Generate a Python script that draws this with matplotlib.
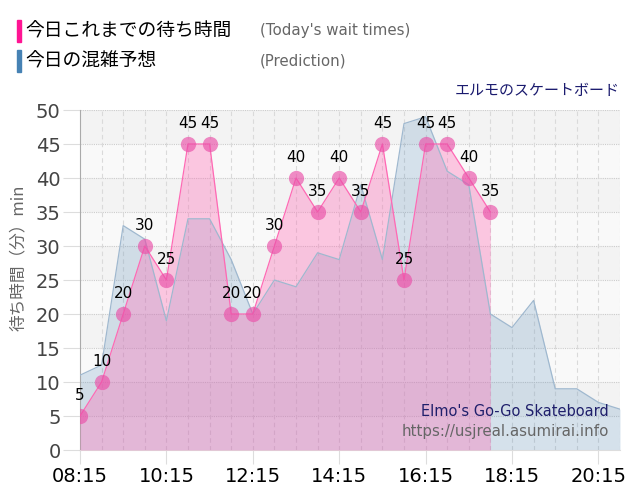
import numpy as np
import matplotlib.pyplot as plt
from matplotlib.patches import Rectangle

plt.rcParams['font.family'] = ['DejaVu Sans', 'Noto Sans CJK JP']

# 今日これまでの待ち時間 (30分ごと)
jikan_kyou = ["08:15", "08:45", "09:15", "09:45", "10:15", "10:45", "11:15", "11:45",
              "12:15", "12:45", "13:15", "13:45", "14:15", "14:45", "15:15", "15:45",
              "16:15", "16:45", "17:15", "17:45"]
machi_kyou = [5, 10, 20, 30, 25, 45, 45, 20, 20, 30, 40, 35, 40, 35, 45, 25, 45, 45, 40, 35]

# 今日の混雑予想
jikan_yosou = jikan_kyou + ["18:15", "18:45", "19:15", "19:45", "20:15", "20:45"]
machi_yosou = [11, 12.5, 33, 31, 19, 34, 34, 28, 20, 25, 24, 29, 28, 39, 28, 48,
               49, 41, 39, 20, 18, 22, 9, 9, 7, 6]

tick_labels = ["08:15", "10:15", "12:15", "14:15", "16:15", "18:15", "20:15"]


def to_h(t):
    h, m = t.split(":")
    return int(h) + int(m) / 60


xk = np.array([to_h(t) for t in jikan_kyou])
xy = np.array([to_h(t) for t in jikan_yosou])
xt = [to_h(t) for t in tick_labels]

fig = plt.figure(figsize=(6.4, 5.0), dpi=100)
ax = fig.add_axes([80/640, 50/500, 540/640, 340/500])
ax.set_xlim(xy[0], xy[-1])
ax.set_ylim(0, 50)

# 背景の縞
for i, lo in enumerate(range(0, 50, 5)):
    ax.axhspan(lo, lo + 5, color="#f3f3f3" if i % 2 else "#f9f9f9", zorder=0, lw=0)

for y in range(5, 51, 5):
    ax.axhline(y, color="#cccccc", lw=0.8, ls=(0, (1, 1)), zorder=1)
for x in xy[1:]:
    ax.axvline(x, color="#dadada", lw=0.8, ls=(0, (4, 3)), zorder=1)

ax.fill_between(xy, machi_yosou, color="#4682b4", alpha=0.2, lw=0, zorder=2)
ax.fill_between(xk, machi_kyou, color="#ff69b4", alpha=0.35, lw=0, zorder=3)
ax.plot(xy, machi_yosou, color="#9fb8cf", lw=0.9, zorder=4)
ax.plot(xk, machi_kyou, color="#ff69b4", lw=0.9, zorder=5)
ax.plot(xk, machi_kyou, "o", ms=11, color="#ea4fa8", alpha=0.65, mec="none", zorder=6)

for x, v in zip(xk, machi_kyou):
    ax.annotate(str(v), (x, v), xytext=(0, 9), textcoords="offset points",
                ha="center", va="bottom", fontsize=11, color="black", zorder=7)

for s in ["top", "right"]:
    ax.spines[s].set_visible(False)
ax.spines["left"].set_color("#aaaaaa")
ax.spines["bottom"].set_color("#dddddd")

ax.set_xticks(xt)
ax.set_xticklabels(tick_labels, fontsize=14, color="black")
ax.set_yticks(range(0, 51, 5))
ax.tick_params(axis="y", labelsize=14, labelcolor="#444444", color="#dddddd", length=12, pad=2)
ax.tick_params(axis="x", color="#dddddd", length=10, pad=2)

fig.text(18/640, 1 - 258/500, "待ち時間（分）min", rotation=90, ha="center", va="center",
         fontsize=12, color="#666666", family=["Noto Sans CJK JP", "DejaVu Sans"])

# 凡例
fig.patches.append(Rectangle((17/640, 1 - 42/500), 4/640, 22/500, color="#ff1493",
                             transform=fig.transFigure, figure=fig))
fig.patches.append(Rectangle((17/640, 1 - 72/500), 4/640, 22/500, color="#4682b4",
                             transform=fig.transFigure, figure=fig))
fig.text(25/640, 1 - 31/500, "今日これまでの待ち時間", fontsize=13.5, va="center",
         family=["Noto Sans CJK JP"], color="black")
fig.text(25/640, 1 - 61/500, "今日の混雑予想", fontsize=13.5, va="center",
         family=["Noto Sans CJK JP"], color="black")
fig.text(260/640, 1 - 31/500, "(Today's wait times)", fontsize=10.8, va="center", color="#666666")
fig.text(260/640, 1 - 61/500, "(Prediction)", fontsize=10.8, va="center", color="#666666")

fig.text(620/640, 1 - 91/500, "エルモのスケートボード", fontsize=10.8, ha="right", va="center",
         family=["Noto Sans CJK JP"], color="#1a1a6e")

ax.text(0.98, 0.112, "Elmo's Go-Go Skateboard", transform=ax.transAxes, ha="right",
        va="center", fontsize=10.5, color="#1f1f6b", zorder=8)
ax.text(0.98, 0.054, "https://usjreal.asumirai.info", transform=ax.transAxes, ha="right",
        va="center", fontsize=10.8, color="#666666", zorder=8)

fig.savefig("out.png", dpi=100)
